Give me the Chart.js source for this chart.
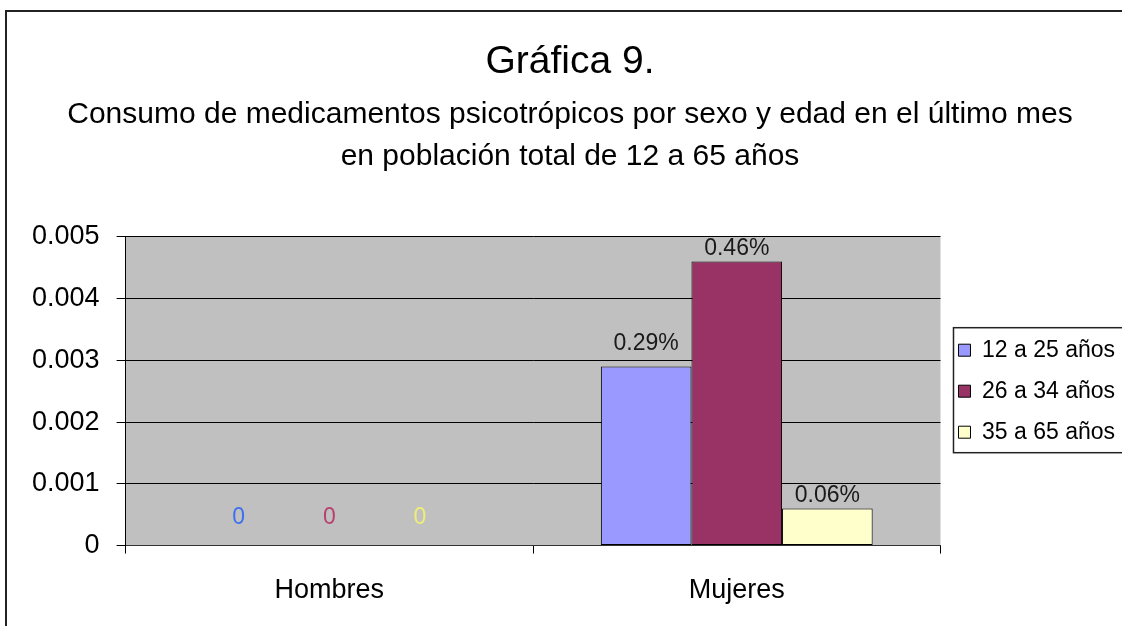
<!DOCTYPE html>
<html>
<head>
<meta charset="utf-8">
<script src="https://cdn.jsdelivr.net/npm/chart.js@4/dist/chart.umd.min.js"></script>
<style>
  html, body { margin: 0; padding: 0; background: #fff; overflow: hidden; }
  #wrap { width: 1122px; height: 626px; overflow: hidden; }
</style>
</head>
<body>
<div id="wrap"><canvas id="chartPsico" width="1140" height="628"></canvas></div>
<script>
const categories = ['Hombres', 'Mujeres'];
const seriesNames = ['12 a 25 años', '26 a 34 años', '35 a 65 años'];
const edad12a25 = [0, 0.0029];
const edad26a34 = [0, 0.0046];
const edad35a65 = [0, 0.0006];
const yTickLabels = ['0', '0.001', '0.002', '0.003', '0.004', '0.005'];

const fontFamily = '"Liberation Sans", Arial, sans-serif';

// fondo gris del area de trazado y marco exterior
const fondoPlugin = {
    id: 'fondo',
    beforeDraw(chart) {
        const c = chart.ctx;
        const a = chart.chartArea;
        c.save();
        c.fillStyle = '#fff';
        c.fillRect(0, 0, chart.width, chart.height);
        c.fillStyle = '#c0c0c0';
        c.fillRect(a.left, a.top, a.right - a.left, a.bottom - a.top);
        c.strokeStyle = '#222';
        c.lineWidth = 2;
        c.strokeRect(6, 11, chart.width + 20, chart.height + 20);
        c.restore();
    },
    afterDraw(chart) {
        // recuadro de la leyenda
        const boxes = chart.legend.legendHitBoxes;
        if (!boxes || !boxes.length) return;
        const c = chart.ctx;
        const last = boxes[boxes.length - 1];
        const top = boxes[0].top - 11;
        const bottom = last.top + last.height + 9;
        const left = Math.min(...boxes.map(b => b.left)) - 5;
        c.save();
        c.strokeStyle = '#222';
        c.lineWidth = 1.5;
        c.strokeRect(left, top, chart.width, bottom - top);
        c.restore();
    }
};

// etiquetas de datos
const etiquetasPlugin = {
    id: 'etiquetas',
    afterDatasetsDraw(chart, args, opts) {
        const c = chart.ctx;
        c.save();
        c.font = '23px ' + fontFamily;
        c.textAlign = 'center';
        c.textBaseline = 'middle';
        chart.data.datasets.forEach((ds, i) => {
            const meta = chart.getDatasetMeta(i);
            meta.data.forEach((bar, j) => {
                const v = ds.data[j];
                if (v === 0) {
                    c.fillStyle = opts.zeroColors[i];
                    c.fillText('0', bar.x, bar.y - 28);
                } else {
                    c.fillStyle = '#1a1a1a';
                    c.fillText((v * 100).toFixed(2) + '%', bar.x, bar.y - opts.offsets[i]);
                }
            });
        });
        c.restore();
    }
};

const ctxPsico = document.getElementById('chartPsico');
const chartPsico = new Chart(ctxPsico, {
    type: 'bar',
    data: {
        labels: categories,
        datasets: [
            { label: seriesNames[0], data: edad12a25, backgroundColor: '#9999ff' },
            { label: seriesNames[1], data: edad26a34, backgroundColor: '#993366' },
            { label: seriesNames[2], data: edad35a65, backgroundColor: '#ffffcc' }
        ].map(d => Object.assign(d, {
            borderColor: '#000',
            borderWidth: 1,
            borderSkipped: false,
            barPercentage: 1,
            categoryPercentage: 0.667
        }))
    },
    options: {
        responsive: false,
        animation: false,
        layout: { padding: { top: 30, left: 15, right: 15, bottom: 0 } },
        scales: {
            x: {
                grid: { display: true, drawOnChartArea: false, drawTicks: true, tickLength: 8, color: '#000', offset: true },
                border: { color: '#333', width: 1 },
                ticks: { color: '#000', padding: 21, font: { family: fontFamily, size: 27 } }
            },
            y: {
                min: 0,
                max: 0.005,
                grid: { color: '#000', lineWidth: 1, tickLength: 9 },
                border: { color: '#000', width: 1 },
                ticks: {
                    stepSize: 0.001,
                    color: '#000',
                    padding: 17,
                    font: { family: fontFamily, size: 27 },
                    callback: (v, i) => yTickLabels[i]
                }
            }
        },
        plugins: {
            title: {
                display: true,
                text: 'Gráfica 9.',
                color: '#000',
                padding: { top: 9, bottom: 6 },
                font: { family: fontFamily, size: 39, weight: 'normal', lineHeight: 1.2 }
            },
            subtitle: {
                display: true,
                text: ['Consumo de medicamentos psicotrópicos por sexo y edad en el último mes',
                       'en población total de 12 a 65 años'],
                color: '#000',
                padding: { top: 2, bottom: 59 },
                font: { family: fontFamily, size: 30, weight: 'normal', lineHeight: 1.4 }
            },
            legend: {
                position: 'right',
                fullSize: false,
                labels: {
                    color: '#000',
                    boxWidth: 12,
                    boxHeight: 12,
                    padding: 18,
                    font: { family: fontFamily, size: 23 }
                }
            },
            tooltip: { enabled: false },
            etiquetas: {
                offsets: [23, 13, 13],
                zeroColors: ['#3d6ff0', '#b8406e', '#eeee77']
            }
        }
    },
    plugins: [fondoPlugin, etiquetasPlugin]
});
</script>
</body>
</html>
